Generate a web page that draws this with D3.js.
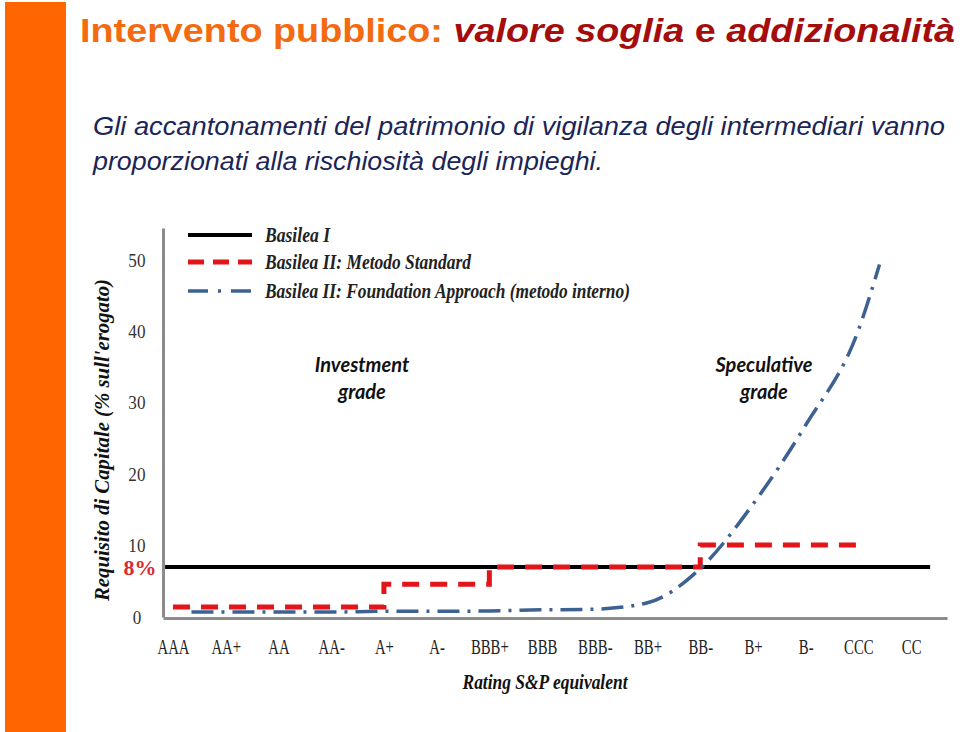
<!DOCTYPE html>
<html><head><meta charset="utf-8">
<script src="https://cdn.jsdelivr.net/npm/d3@7/dist/d3.min.js"></script>
<style>
html,body{margin:0;padding:0;background:#fff;}
svg{display:block;}
</style></head>
<body>
<svg id="chart" width="960" height="732"></svg>
<script>
// ---- data ----
const ratings = ["AAA","AA+","AA","AA-","A+","A-","BBB+","BBB","BBB-","BB+","BB-","B+","B-","CCC","CC"];
const yTickValues = [0,10,20,30,40,50];
const basileaIValue = 7.0;
const basileaIExtent = [-0.15, 14.36];
const standardValues = [1.4,1.4,1.4,1.4,4.6,4.6,7.0,7.0,7.0,7.0,10.1,10.1,10.1,10.1];
const foundationX = [0.35,1,2,3,4,5,6,7,8,9,10,11,12,13,13.4];
const foundationValues = [0.7,0.7,0.7,0.7,0.8,0.8,0.85,1.0,1.1,2.0,6.8,15.8,26.9,40.2,49.4];
const legendLabels = ["Basilea I","Basilea II: Metodo Standard","Basilea II: Foundation Approach (metodo interno)"];

// ---- drawing ----
const svg = d3.select("#chart");
svg.append("rect").attr("x",5).attr("y",2).attr("width",61).attr("height",730).attr("fill","#ff6600");

// title
const title = svg.append("text").attr("x",80).attr("y",42)
  .attr("font-family","Liberation Sans, Arial, sans-serif").attr("font-size",33).attr("font-weight","bold")
  .attr("textLength",875).attr("lengthAdjust","spacingAndGlyphs");
title.append("tspan").attr("fill","#f36a10").text("Intervento pubblico: ");
title.append("tspan").attr("fill","#a50d0d").attr("font-style","italic").text("valore soglia");
title.append("tspan").attr("fill","#a50d0d").text(" e ");
title.append("tspan").attr("fill","#a50d0d").attr("font-style","italic").text("addizionalità");

const sub = svg.append("g").attr("font-family","Liberation Sans, Arial, sans-serif").attr("font-size",26)
  .attr("font-style","italic").attr("fill","#1b2557").style("white-space","pre");
sub.append("text").attr("x",93).attr("y",135).attr("textLength",852).attr("lengthAdjust","spacingAndGlyphs")
  .text("Gli accantonamenti del patrimonio di vigilanza degli intermediari  vanno");
sub.append("text").attr("x",93).attr("y",170).attr("textLength",510).attr("lengthAdjust","spacingAndGlyphs")
  .text("proporzionati alla rischiosità degli impieghi.");

// scales
const x = d3.scaleLinear().domain([-0.19, 14.68]).range([163, 947]);
const y = d3.scaleLinear().domain([0, 54.5]).range([617, 228]);

const serif = "Liberation Serif, Times New Roman, serif";

// axes
const yAxis = svg.append("g").attr("transform",`translate(${x(-0.19)},0)`)
  .call(d3.axisLeft(y).tickValues(yTickValues).tickSize(0).tickSizeOuter(0).tickPadding(0));
yAxis.select(".domain").attr("stroke","#8c8c8c").attr("stroke-width",3);
yAxis.selectAll("text").attr("font-family",serif).attr("font-size",19).attr("fill","#333")
  .attr("text-anchor","middle").attr("x",-29).attr("transform","scale(0.9,1)");

const xAxis = svg.append("g").attr("transform",`translate(0,${y(0)+1})`)
  .call(d3.axisBottom(x).tickValues(d3.range(ratings.length)).tickFormat(i => ratings[i])
    .tickSize(0).tickSizeOuter(0).tickPadding(22));
xAxis.select(".domain").attr("stroke","#8c8c8c").attr("stroke-width",3);
xAxis.selectAll("text").attr("font-family",serif).attr("font-size",20).attr("fill","#222")
  .attr("transform","scale(0.74,1)");

// lines
const line = d3.line().x(d => x(d[0])).y(d => y(d[1]));
svg.append("path").datum(basileaIExtent.map(v => [v, basileaIValue]))
  .attr("d", line).attr("fill","none").attr("stroke","#000").attr("stroke-width",4);

svg.append("path").datum(standardValues.map((v,i) => [i, v]))
  .attr("d", line.curve(d3.curveStepAfter)).attr("fill","none").attr("stroke","#e3151b")
  .attr("stroke-width",5).attr("stroke-dasharray","17,11");

svg.append("path").datum(foundationValues.map((v,i) => [foundationX[i], v]))
  .attr("d", d3.line().x(d => x(d[0])).y(d => y(d[1])).curve(d3.curveMonotoneX))
  .attr("fill","none").attr("stroke","#3d6191").attr("stroke-width",3.5).attr("stroke-dasharray","22,8,3,8");

// 8% label
svg.append("text").attr("x",140).attr("y",y(basileaIValue)).attr("dy","0.35em").attr("text-anchor","middle")
  .attr("font-family",serif).attr("font-weight","bold").attr("font-size",22).attr("fill","#dc2a2f").text("8%");

// legend
const legStyles = [
  {stroke:"#000", w:4, dash:null},
  {stroke:"#e3151b", w:5, dash:"16,9"},
  {stroke:"#3d6191", w:3.5, dash:"20,10,3,10"}
];
const legYs = [235, 262, 291];
const legW = [65, 206, 365];
legendLabels.forEach((lab,i) => {
  svg.append("line").attr("x1",188).attr("x2",252).attr("y1",legYs[i]).attr("y2",legYs[i])
    .attr("stroke",legStyles[i].stroke).attr("stroke-width",legStyles[i].w)
    .attr("stroke-dasharray",legStyles[i].dash);
  svg.append("text").attr("x",265).attr("y",legYs[i]).attr("dy","0.33em")
    .attr("font-family",serif).attr("font-weight","bold").attr("font-style","italic").attr("font-size",22)
    .attr("fill","#222").attr("textLength",legW[i]).attr("lengthAdjust","spacingAndGlyphs").text(lab);
});

// annotations
const ann = [["Investment","grade",362],["Speculative","grade",764]];
ann.forEach(a => {
  const t = svg.append("text").attr("text-anchor","middle").attr("font-family","Lato, Open Sans, sans-serif")
    .attr("font-weight","bold").attr("font-style","italic").attr("font-size",20).attr("fill","#111");
  t.append("tspan").attr("x",a[2]).attr("y",372).text(a[0]);
  t.append("tspan").attr("x",a[2]).attr("y",399).text(a[1]);
});

// axis titles
svg.append("text").attr("x",545).attr("y",689).attr("text-anchor","middle")
  .attr("font-family",serif).attr("font-weight","bold").attr("font-style","italic").attr("font-size",20)
  .attr("fill","#111").attr("textLength",165).attr("lengthAdjust","spacingAndGlyphs").text("Rating S&P equivalent");
svg.append("text").attr("transform","translate(109,440) rotate(-90)").attr("text-anchor","middle")
  .attr("font-family",serif).attr("font-weight","bold").attr("font-style","italic").attr("font-size",20)
  .attr("fill","#111").attr("textLength",322).attr("lengthAdjust","spacingAndGlyphs").text("Requisito di Capitale (% sull'erogato)");
</script>
</body></html>
